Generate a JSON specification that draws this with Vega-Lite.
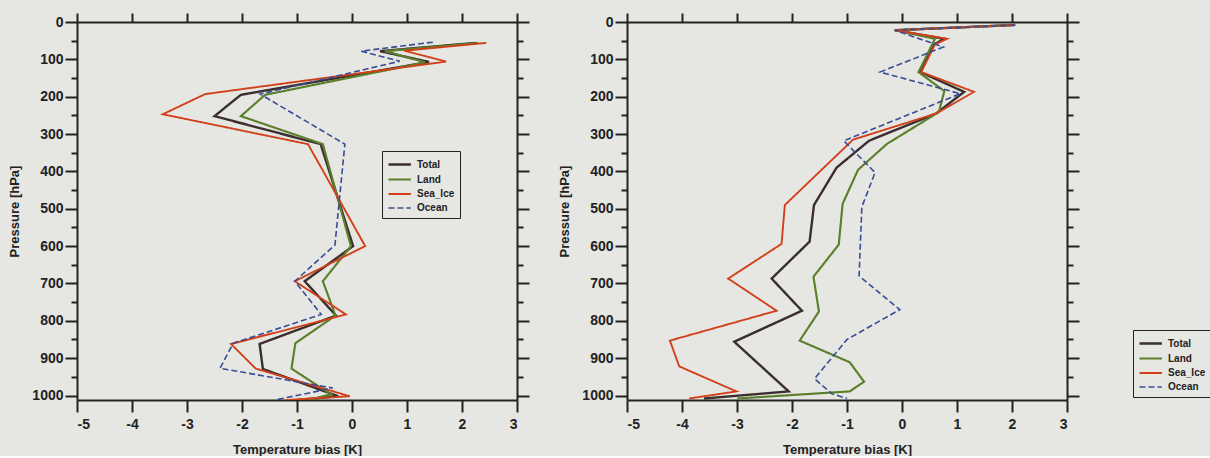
{
  "$schema": "https://vega.github.io/schema/vega-lite/v6.json",
  "background": "#e6e6e3",
  "padding": {"left": 8, "top": 12, "right": 0, "bottom": 0},
  "config": {
    "view": {"stroke": null},
    "axis": {
      "labelFont": "Liberation Sans", "labelFontWeight": "bold", "labelFontSize": 14, "labelColor": "#222",
      "titleFont": "Liberation Sans", "titleFontWeight": "bold", "titleFontSize": 13, "titleColor": "#222",
      "domainColor": "#222", "domainWidth": 2, "tickColor": "#222", "tickWidth": 2, "grid": false
    },
    "legend": {
      "orient": "none", "title": null, "strokeColor": "#222", "fillColor": "#e6e6e3",
      "padding": 5, "labelFont": "Liberation Sans", "labelFontWeight": "bold", "labelFontSize": 10, "labelColor": "#222",
      "symbolType": "M-1,0H2.2", "symbolSize": 196, "rowPadding": 1, "labelOffset": 13
    }
  },
  "datasets": {
    "left": [
      {"series": "Total", "bias": 2.25, "p": 56}, {"series": "Total", "bias": 0.51, "p": 78}, {"series": "Total", "bias": 1.4, "p": 107},
      {"series": "Total", "bias": -2.02, "p": 195}, {"series": "Total", "bias": -2.5, "p": 252}, {"series": "Total", "bias": -0.57, "p": 327},
      {"series": "Total", "bias": 0.02, "p": 600}, {"series": "Total", "bias": -0.86, "p": 694}, {"series": "Total", "bias": -0.29, "p": 786},
      {"series": "Total", "bias": -1.68, "p": 862}, {"series": "Total", "bias": -1.62, "p": 929}, {"series": "Total", "bias": -0.25, "p": 1002},
      {"series": "Total", "bias": -1.0, "p": 1012},
      {"series": "Land", "bias": 2.3, "p": 56}, {"series": "Land", "bias": 0.6, "p": 78}, {"series": "Land", "bias": 1.33, "p": 108},
      {"series": "Land", "bias": -1.58, "p": 195}, {"series": "Land", "bias": -2.02, "p": 252}, {"series": "Land", "bias": -0.53, "p": 327},
      {"series": "Land", "bias": -0.02, "p": 600}, {"series": "Land", "bias": -0.53, "p": 694}, {"series": "Land", "bias": -0.3, "p": 786},
      {"series": "Land", "bias": -1.03, "p": 860}, {"series": "Land", "bias": -1.1, "p": 928}, {"series": "Land", "bias": -0.38, "p": 997},
      {"series": "Land", "bias": -0.8, "p": 1012},
      {"series": "Sea_Ice", "bias": 2.44, "p": 56}, {"series": "Sea_Ice", "bias": 0.95, "p": 77}, {"series": "Sea_Ice", "bias": 1.71, "p": 106},
      {"series": "Sea_Ice", "bias": -2.67, "p": 193}, {"series": "Sea_Ice", "bias": -3.44, "p": 247}, {"series": "Sea_Ice", "bias": -0.8, "p": 327},
      {"series": "Sea_Ice", "bias": 0.24, "p": 600}, {"series": "Sea_Ice", "bias": -1.04, "p": 694}, {"series": "Sea_Ice", "bias": -0.11, "p": 783},
      {"series": "Sea_Ice", "bias": -2.2, "p": 862}, {"series": "Sea_Ice", "bias": -1.75, "p": 928}, {"series": "Sea_Ice", "bias": -0.04, "p": 1002},
      {"series": "Sea_Ice", "bias": -1.2, "p": 1012},
      {"series": "Ocean", "bias": 1.47, "p": 54}, {"series": "Ocean", "bias": 0.17, "p": 78}, {"series": "Ocean", "bias": 0.87, "p": 105},
      {"series": "Ocean", "bias": -1.67, "p": 193}, {"series": "Ocean", "bias": -0.13, "p": 327}, {"series": "Ocean", "bias": -0.31, "p": 597},
      {"series": "Ocean", "bias": -1.04, "p": 694}, {"series": "Ocean", "bias": -0.56, "p": 783}, {"series": "Ocean", "bias": -2.16, "p": 860},
      {"series": "Ocean", "bias": -2.4, "p": 927}, {"series": "Ocean", "bias": -0.35, "p": 980}, {"series": "Ocean", "bias": -1.4, "p": 1012}
    ],
    "right": [
      {"series": "Total", "bias": 2.05, "p": 8}, {"series": "Total", "bias": -0.13, "p": 22}, {"series": "Total", "bias": 0.77, "p": 45},
      {"series": "Total", "bias": 0.58, "p": 60}, {"series": "Total", "bias": 0.33, "p": 134}, {"series": "Total", "bias": 1.13, "p": 187},
      {"series": "Total", "bias": 0.62, "p": 245}, {"series": "Total", "bias": -0.6, "p": 318}, {"series": "Total", "bias": -1.19, "p": 390},
      {"series": "Total", "bias": -1.6, "p": 490}, {"series": "Total", "bias": -1.68, "p": 588}, {"series": "Total", "bias": -2.37, "p": 687},
      {"series": "Total", "bias": -1.82, "p": 773}, {"series": "Total", "bias": -3.05, "p": 856}, {"series": "Total", "bias": -2.06, "p": 989},
      {"series": "Total", "bias": -3.6, "p": 1008},
      {"series": "Land", "bias": 2.05, "p": 8}, {"series": "Land", "bias": -0.13, "p": 22}, {"series": "Land", "bias": 0.6, "p": 45},
      {"series": "Land", "bias": 0.55, "p": 60}, {"series": "Land", "bias": 0.3, "p": 134}, {"series": "Land", "bias": 0.77, "p": 185},
      {"series": "Land", "bias": 0.67, "p": 241}, {"series": "Land", "bias": -0.27, "p": 326}, {"series": "Land", "bias": -0.8, "p": 396},
      {"series": "Land", "bias": -1.08, "p": 487}, {"series": "Land", "bias": -1.15, "p": 596}, {"series": "Land", "bias": -1.61, "p": 682},
      {"series": "Land", "bias": -1.51, "p": 775}, {"series": "Land", "bias": -1.86, "p": 853}, {"series": "Land", "bias": -0.95, "p": 911},
      {"series": "Land", "bias": -0.69, "p": 963}, {"series": "Land", "bias": -0.95, "p": 989}, {"series": "Land", "bias": -3.0, "p": 1008},
      {"series": "Sea_Ice", "bias": 2.06, "p": 8}, {"series": "Sea_Ice", "bias": -0.13, "p": 22}, {"series": "Sea_Ice", "bias": 0.82, "p": 45},
      {"series": "Sea_Ice", "bias": 0.6, "p": 60}, {"series": "Sea_Ice", "bias": 0.35, "p": 134}, {"series": "Sea_Ice", "bias": 1.31, "p": 187},
      {"series": "Sea_Ice", "bias": 0.62, "p": 245}, {"series": "Sea_Ice", "bias": -0.89, "p": 315}, {"series": "Sea_Ice", "bias": -2.13, "p": 490},
      {"series": "Sea_Ice", "bias": -2.19, "p": 594}, {"series": "Sea_Ice", "bias": -3.16, "p": 687}, {"series": "Sea_Ice", "bias": -2.28, "p": 773},
      {"series": "Sea_Ice", "bias": -4.22, "p": 853}, {"series": "Sea_Ice", "bias": -4.05, "p": 922}, {"series": "Sea_Ice", "bias": -3.01, "p": 989},
      {"series": "Sea_Ice", "bias": -3.87, "p": 1008},
      {"series": "Ocean", "bias": 2.06, "p": 8}, {"series": "Ocean", "bias": -0.13, "p": 22}, {"series": "Ocean", "bias": 0.75, "p": 67},
      {"series": "Ocean", "bias": -0.4, "p": 134}, {"series": "Ocean", "bias": 1.06, "p": 192}, {"series": "Ocean", "bias": -1.06, "p": 318},
      {"series": "Ocean", "bias": -0.49, "p": 403}, {"series": "Ocean", "bias": -0.73, "p": 495}, {"series": "Ocean", "bias": -0.78, "p": 680},
      {"series": "Ocean", "bias": -0.04, "p": 770}, {"series": "Ocean", "bias": -1.0, "p": 850}, {"series": "Ocean", "bias": -1.59, "p": 955},
      {"series": "Ocean", "bias": -1.28, "p": 995}, {"series": "Ocean", "bias": -1.0, "p": 1008}
    ]
  },
  "resolve": {"scale": {"color": "independent", "strokeDash": "independent", "strokeWidth": "independent"}},
  "spacing": 28,
  "hconcat": [
    {
      "width": 440, "height": 378,
      "data": {"name": "left"},
      "resolve": {"axis": {"x": "independent", "y": "independent"}},
      "layer": [
        {
          "mark": {"type": "line", "clip": true},
          "encoding": {
            "order": {"field": "p", "type": "quantitative"},
            "x": {"field": "bias", "type": "quantitative", "scale": {"domain": [-5, 3], "nice": false, "zero": false},
              "axis": {"orient": "bottom", "values": [-5, -4, -3, -2, -1, 0, 1, 2, 3], "labelExpr": "'' + datum.value", "tickSize": 12, "labelPadding": 5, "title": "Temperature bias [K]", "titlePadding": 12}},
            "y": {"field": "p", "type": "quantitative", "scale": {"domain": [0, 1012], "reverse": true, "nice": false, "zero": false},
              "axis": {"orient": "left", "values": [0, 50, 100, 150, 200, 250, 300, 350, 400, 450, 500, 550, 600, 650, 700, 750, 800, 850, 900, 950, 1000],
                "labelExpr": "datum.value % 100 === 0 ? '' + datum.value : ''",
                "tickSize": {"condition": {"test": "datum.value % 100 === 0", "value": 12}, "value": 6},
                "labelPadding": 2, "title": "Pressure [hPa]", "titlePadding": 10}},
            "color": {"field": "series", "type": "nominal",
              "scale": {"domain": ["Total", "Land", "Sea_Ice", "Ocean"], "range": ["#3b2e2e", "#5b7f2a", "#d2401a", "#3a4d94"]},
              "legend": {"legendX": 305, "legendY": 129}},
            "strokeDash": {"field": "series", "type": "nominal",
              "scale": {"domain": ["Total", "Land", "Sea_Ice", "Ocean"], "range": [[1, 0], [1, 0], [1, 0], [6, 3]]},
              "legend": {"legendX": 305, "legendY": 129}},
            "strokeWidth": {"field": "series", "type": "nominal",
              "scale": {"domain": ["Total", "Land", "Sea_Ice", "Ocean"], "range": [2.4, 1.6, 1.8, 2.2]},
              "legend": {"legendX": 305, "legendY": 129}}
          }
        },
        {
          "mark": {"type": "point", "opacity": 0},
          "encoding": {
            "x": {"field": "bias", "type": "quantitative", "axis": {"orient": "top", "values": [-5, -4, -3, -2, -1, 0, 1, 2, 3], "labels": false, "tickSize": 9, "title": null}},
            "y": {"field": "p", "type": "quantitative", "axis": {"orient": "right", "labels": false, "title": null,
              "values": [0, 50, 100, 150, 200, 250, 300, 350, 400, 450, 500, 550, 600, 650, 700, 750, 800, 850, 900, 950, 1000],
              "tickSize": {"condition": {"test": "datum.value % 100 === 0", "value": 12}, "value": 6}}}
          }
        }
      ]
    },
    {
      "width": 440, "height": 378,
      "data": {"name": "right"},
      "resolve": {"axis": {"x": "independent", "y": "independent"}},
      "layer": [
        {
          "mark": {"type": "line", "clip": true},
          "encoding": {
            "order": {"field": "p", "type": "quantitative"},
            "x": {"field": "bias", "type": "quantitative", "scale": {"domain": [-5, 3], "nice": false, "zero": false},
              "axis": {"orient": "bottom", "values": [-5, -4, -3, -2, -1, 0, 1, 2, 3], "labelExpr": "'' + datum.value", "tickSize": 12, "labelPadding": 5, "title": "Temperature bias [K]", "titlePadding": 12}},
            "y": {"field": "p", "type": "quantitative", "scale": {"domain": [0, 1012], "reverse": true, "nice": false, "zero": false},
              "axis": {"orient": "left", "values": [0, 50, 100, 150, 200, 250, 300, 350, 400, 450, 500, 550, 600, 650, 700, 750, 800, 850, 900, 950, 1000],
                "labelExpr": "datum.value % 100 === 0 ? '' + datum.value : ''",
                "tickSize": {"condition": {"test": "datum.value % 100 === 0", "value": 12}, "value": 6},
                "labelPadding": 2, "title": "Pressure [hPa]", "titlePadding": 10}},
            "color": {"field": "series", "type": "nominal",
              "scale": {"domain": ["Total", "Land", "Sea_Ice", "Ocean"], "range": ["#3b2e2e", "#5b7f2a", "#d2401a", "#3a4d94"]},
              "legend": {"legendX": 506, "legendY": 308}},
            "strokeDash": {"field": "series", "type": "nominal",
              "scale": {"domain": ["Total", "Land", "Sea_Ice", "Ocean"], "range": [[1, 0], [1, 0], [1, 0], [6, 3]]},
              "legend": {"legendX": 506, "legendY": 308}},
            "strokeWidth": {"field": "series", "type": "nominal",
              "scale": {"domain": ["Total", "Land", "Sea_Ice", "Ocean"], "range": [2.4, 1.6, 1.8, 2.2]},
              "legend": {"legendX": 506, "legendY": 308}}
          }
        },
        {
          "mark": {"type": "point", "opacity": 0},
          "encoding": {
            "x": {"field": "bias", "type": "quantitative", "axis": {"orient": "top", "values": [-5, -4, -3, -2, -1, 0, 1, 2, 3], "labels": false, "tickSize": 9, "title": null}},
            "y": {"field": "p", "type": "quantitative", "axis": {"orient": "right", "labels": false, "title": null,
              "values": [0, 50, 100, 150, 200, 250, 300, 350, 400, 450, 500, 550, 600, 650, 700, 750, 800, 850, 900, 950, 1000],
              "tickSize": {"condition": {"test": "datum.value % 100 === 0", "value": 12}, "value": 6}}}
          }
        }
      ]
    }
  ]
}
